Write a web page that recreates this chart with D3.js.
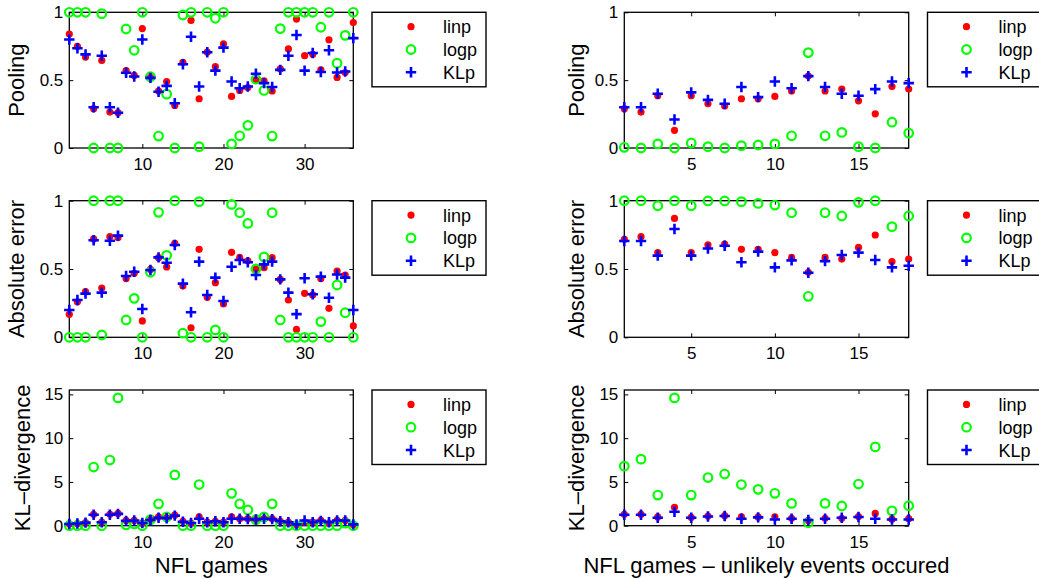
<!DOCTYPE html>
<head>
<meta charset="utf-8">
<title>Pooling, absolute error and KL-divergence - NFL games</title>
<script src="https://cdn.jsdelivr.net/npm/d3@7"></script>
<style>
body { margin: 0; background: #fff; }
svg { font-family: "Liberation Sans", Arial, sans-serif; }
.tick text { font-size: 17px; fill: #000; }
.tick line { stroke: #000; stroke-width: 1; }
.frame { fill: none; stroke: #000; stroke-width: 1.3; }
.lab { font-size: 22px; fill: #000; }
.leg rect { fill: #fff; stroke: #000; stroke-width: 1.4; }
.leg text { font-size: 18px; fill: #000; }
.linp { fill: #ff0000; }
.logp { fill: none; stroke: #00ff00; stroke-width: 2.2; }
.klp { stroke: #0000ff; stroke-width: 2.6; }
</style>
</head>
<body>
<div id="container"></div>
<script>
//------------------------ DATA ------------------------//

const gamesAll = [1,2,3,4,5,6,7,8,9,10,11,12,13,14,15,16,17,18,19,20,21,22,23,24,25,26,27,28,29,30,31,32,33,34,35,36];
const gamesUnlikely = [1,2,3,4,5,6,7,8,9,10,11,12,13,14,15,16,17,18];
const seriesNames = ["linp", "logp", "KLp"];

// all games - pooling weight
const poolAllLinp = [0.84,0.75,0.67,0.29,0.645,0.265,0.26,0.57,0.535,0.88,0.52,0.42,0.49,0.314,0.632,0.94,0.363,0.706,0.60,0.767,0.38,0.424,0.446,0.50,0.495,0.42,0.583,0.73,0.95,0.68,0.69,0.576,0.797,0.52,0.556,0.925];
const poolAllLogp = [1,1,1,0,0.99,0,0,0.877,0.72,1,0.525,0.088,0.397,0,0.98,1,0.01,1,0.956,1,0.03,0.09,0.167,0.507,0.424,0.088,0.88,1,1,1,1,0.89,1,0.625,0.83,1];
const poolAllKLp  = [0.80,0.735,0.69,0.30,0.68,0.30,0.26,0.555,0.527,0.80,0.517,0.415,0.458,0.33,0.617,0.82,0.453,0.706,0.57,0.74,0.49,0.44,0.453,0.547,0.478,0.45,0.576,0.68,0.833,0.57,0.70,0.56,0.72,0.556,0.564,0.81];

// all games - absolute error
const errAllLinp = [0.168,0.26,0.334,0.72,0.36,0.737,0.73,0.43,0.468,0.12,0.497,0.583,0.515,0.688,0.375,0.07,0.644,0.293,0.40,0.244,0.622,0.585,0.56,0.50,0.51,0.583,0.424,0.273,0.058,0.322,0.31,0.43,0.212,0.485,0.456,0.083];
const errAllLogp = [0,0,0,1,0.017,1,1,0.127,0.285,0,0.476,0.915,0.60,1,0.03,0,0.993,0,0.054,0,0.973,0.912,0.834,0.50,0.588,0.912,0.127,0,0,0,0,0.115,0,0.383,0.18,0];
const errAllKLp  = [0.20,0.273,0.32,0.71,0.327,0.707,0.744,0.449,0.48,0.207,0.493,0.585,0.546,0.676,0.393,0.183,0.554,0.31,0.437,0.266,0.517,0.566,0.549,0.456,0.534,0.554,0.424,0.327,0.17,0.432,0.315,0.444,0.29,0.46,0.437,0.20];

// all games - KL-divergence
const klAllLinp = [0.2,0.25,0.35,1.3,0.4,1.3,1.4,0.6,0.6,0.3,0.7,1.0,0.9,1.2,0.5,0.3,1.0,0.4,0.5,0.4,1.0,0.8,0.8,0.7,0.8,0.8,0.5,0.4,0.1,0.4,0.4,0.6,0.3,0.6,0.6,0.1];
const klAllLogp = [0,0,0,6.7,0,7.5,14.6,0.1,0.2,0,0.7,2.5,1.0,5.8,0,0,4.7,0,0,0,3.7,2.5,1.8,0.7,1.0,2.5,0,0,0,0,0,0,0,0,0.3,0];
const klAllKLp  = [0.2,0.25,0.35,1.25,0.4,1.25,1.35,0.55,0.6,0.3,0.65,0.9,0.85,1.15,0.45,0.3,0.8,0.4,0.5,0.4,0.8,0.8,0.75,0.7,0.8,0.75,0.5,0.4,0.15,0.6,0.4,0.55,0.4,0.6,0.6,0.15];

// unlikely events - pooling weight
const poolUnlLinp = [0.29,0.265,0.385,0.13,0.385,0.326,0.31,0.363,0.363,0.38,0.42,0.53,0.42,0.434,0.348,0.252,0.453,0.434];
const poolUnlLogp = [0.005,0,0.03,0,0.037,0.01,0,0.017,0.022,0.03,0.09,0.703,0.09,0.115,0.01,0,0.19,0.11];
const poolUnlKLp  = [0.30,0.30,0.40,0.21,0.41,0.355,0.326,0.45,0.375,0.49,0.44,0.53,0.45,0.40,0.385,0.434,0.49,0.478];

// unlikely events - absolute error
const errUnlLinp = [0.717,0.737,0.62,0.87,0.62,0.676,0.683,0.644,0.644,0.62,0.585,0.476,0.585,0.573,0.658,0.749,0.554,0.573];
const errUnlLogp = [1,1,0.963,1,0.963,0.998,0.998,0.993,0.98,0.968,0.912,0.30,0.912,0.888,0.988,1,0.81,0.888];
const errUnlKLp  = [0.705,0.705,0.598,0.793,0.598,0.65,0.67,0.549,0.627,0.512,0.563,0.473,0.558,0.602,0.62,0.566,0.512,0.524];

// unlikely events - KL-divergence
const klUnlLinp = [1.3,1.3,1.0,2.1,0.95,1.1,1.15,1.0,1.0,1.0,0.85,0.6,0.85,0.85,1.05,1.4,0.75,0.8];
const klUnlLogp = [6.8,7.6,3.5,14.6,3.5,5.5,5.9,4.7,4.15,3.7,2.55,0.34,2.55,2.25,4.76,9.0,1.7,2.28];
const klUnlKLp  = [1.25,1.25,0.9,1.6,0.9,1.05,1.1,0.8,0.95,0.7,0.8,0.65,0.8,0.9,1.0,0.8,0.7,0.7];

const xTicksAll = [10, 20, 30];
const xTicksUnl = [5, 10, 15];
const yTicksUnit = [0, 0.5, 1];
const yTicksKL = [0, 5, 10, 15];

//------------------------ SVG ------------------------//

const W = 1039, H = 579;
const svg = d3.select("#container").append("svg")
    .attr("width", W).attr("height", H);

const colLeft  = {x0: 69.3, x1: 353.3, leg: 372, yLab: 23.5};
const colRight = {x0: 624.3, x1: 908.7, leg: 927.5, yLab: 584};
const rows = [
  {y0: 12.3, y1: 148},
  {y0: 200.7, y1: 337.3},
  {y0: 390, y1: 525.7}
];

const panels = [
  {col: colLeft, row: rows[0], x: gamesAll, dom: [1, 36], xt: xTicksAll, ydom: [0, 1], yt: yTicksUnit, s: [poolAllLinp, poolAllLogp, poolAllKLp], ylab: "Pooling"},
  {col: colLeft, row: rows[1], x: gamesAll, dom: [1, 36], xt: xTicksAll, ydom: [0, 1], yt: yTicksUnit, s: [errAllLinp, errAllLogp, errAllKLp], ylab: "Absolute error", labX: 24},
  {col: colLeft, row: rows[2], x: gamesAll, dom: [1, 36], xt: xTicksAll, ydom: [0, 15.5], yt: yTicksKL, s: [klAllLinp, klAllLogp, klAllKLp], ylab: "KL\u2013divergence", labX: 30, xlab: "NFL games"},
  {col: colRight, row: rows[0], x: gamesUnlikely, dom: [1, 18], xt: xTicksUnl, ydom: [0, 1], yt: yTicksUnit, s: [poolUnlLinp, poolUnlLogp, poolUnlKLp], ylab: "Pooling"},
  {col: colRight, row: rows[1], x: gamesUnlikely, dom: [1, 18], xt: xTicksUnl, ydom: [0, 1], yt: yTicksUnit, s: [errUnlLinp, errUnlLogp, errUnlKLp], ylab: "Absolute error"},
  {col: colRight, row: rows[2], x: gamesUnlikely, dom: [1, 18], xt: xTicksUnl, ydom: [0, 15.5], yt: yTicksKL, s: [klUnlLinp, klUnlLogp, klUnlKLp], ylab: "KL\u2013divergence", xlab: "NFL games \u2013 unlikely events occured"}
];

//------------------------ MARKERS ------------------------//

function marker(g, k, cx, cy) {
  if (k === 0) {
    g.append("circle").attr("class", "linp").attr("cx", cx).attr("cy", cy).attr("r", 3.6);
  } else if (k === 1) {
    g.append("circle").attr("class", "logp").attr("cx", cx).attr("cy", cy).attr("r", 4.3);
  } else {
    g.append("path").attr("class", "klp")
      .attr("d", "M" + (cx - 5.2) + "," + cy + "H" + (cx + 5.2) + "M" + cx + "," + (cy - 5.2) + "V" + (cy + 5.2));
  }
}

//------------------------ DRAWING ------------------------//

panels.forEach(function(p) {
  const x = d3.scaleLinear().domain(p.dom).range([p.col.x0, p.col.x1]);
  const y = d3.scaleLinear().domain(p.ydom).range([p.row.y1, p.row.y0]);
  const g = svg.append("g");
  const fmt = function(d) { return String(d); };

  // ticks on all four sides, pointing inwards
  g.append("g").attr("transform", "translate(0," + p.row.y1 + ")")
    .call(d3.axisBottom(x).tickValues(p.xt).tickSizeInner(-4).tickSizeOuter(0).tickPadding(10).tickFormat(fmt));
  g.append("g").attr("transform", "translate(0," + p.row.y0 + ")")
    .call(d3.axisTop(x).tickValues(p.xt).tickSizeInner(-4).tickSizeOuter(0).tickFormat(""));
  g.append("g").attr("transform", "translate(" + p.col.x0 + ",0)")
    .call(d3.axisLeft(y).tickValues(p.yt).tickSizeInner(-4).tickSizeOuter(0).tickPadding(6).tickFormat(fmt));
  g.append("g").attr("transform", "translate(" + p.col.x1 + ",0)")
    .call(d3.axisRight(y).tickValues(p.yt).tickSizeInner(-4).tickSizeOuter(0).tickFormat(""));
  g.selectAll(".domain").remove();
  g.selectAll(".tick text").attr("font-family", null).attr("font-size", null);

  g.append("rect").attr("class", "frame")
    .attr("x", p.col.x0).attr("y", p.row.y0)
    .attr("width", p.col.x1 - p.col.x0).attr("height", p.row.y1 - p.row.y0);

  // points: linp, then logp, then KLp on top
  p.s.forEach(function(vals, k) {
    const sg = g.append("g");
    vals.forEach(function(v, i) { marker(sg, k, x(p.x[i]), y(v)); });
  });

  // y label
  const lx = p.labX !== undefined ? p.labX : p.col.yLab;
  g.append("text").attr("class", "lab")
    .attr("transform", "translate(" + lx + "," + ((p.row.y0 + p.row.y1) / 2) + ") rotate(-90)")
    .attr("text-anchor", "middle")
    .text(p.ylab);

  // x label
  if (p.xlab) {
    g.append("text").attr("class", "lab")
      .attr("x", (p.col.x0 + p.col.x1) / 2).attr("y", 573)
      .attr("text-anchor", "middle")
      .text(p.xlab);
  }

  // legend
  const leg = g.append("g").attr("class", "leg")
    .attr("transform", "translate(" + p.col.leg + "," + p.row.y0 + ")");
  leg.append("rect").attr("width", 114).attr("height", 74.5);
  seriesNames.forEach(function(name, k) {
    const ry = 14.4 + k * 22.8;
    marker(leg, k, 39, ry);
    leg.append("text").attr("x", 71).attr("y", ry + 6.5).text(name);
  });
});
</script>
</body>
